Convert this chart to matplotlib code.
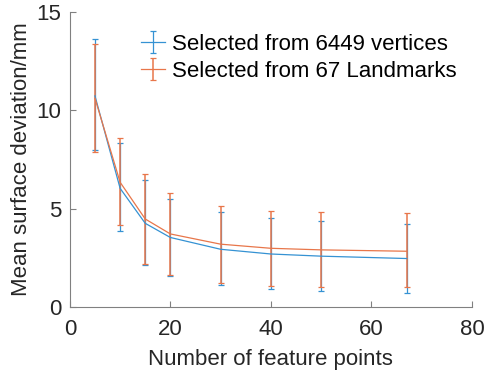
import matplotlib
matplotlib.use("Agg")
import matplotlib.pyplot as plt
import numpy as np

plt.rcParams["font.family"] = ["Liberation Sans", "DejaVu Sans"]

# ── Data ──────────────────────────────────────────────────────────────
n_points = [5, 10, 15, 20, 30, 40, 50, 67]

vert_mean  = [10.73, 6.03, 4.25, 3.53, 2.93, 2.69, 2.58, 2.46]
vert_upper = [13.61, 8.32, 6.44, 5.47, 4.81, 4.53, 4.36, 4.19]
vert_lower = [7.98, 3.86, 2.14, 1.58, 1.10, 0.90, 0.81, 0.73]

lmk_mean  = [10.61, 6.34, 4.47, 3.71, 3.19, 2.98, 2.90, 2.83]
lmk_upper = [13.36, 8.58, 6.78, 5.78, 5.15, 4.90, 4.83, 4.75]
lmk_lower = [7.86, 4.14, 2.20, 1.64, 1.24, 1.08, 1.03, 1.00]

x_ticks = [0, 20, 40, 60, 80]
y_ticks = [0, 5, 10, 15]

BLUE   = "#3592d3"
ORANGE = "#e8764a"
AXIS   = "#808080"
TEXT   = "#262626"
FS     = 16


def err(mean, lower, upper):
    m = np.array(mean)
    return [m - np.array(lower), np.array(upper) - m]


fig = plt.figure(figsize=(4.85, 3.72), dpi=100)
ax = fig.add_axes([0.144, 0.175, 0.829, 0.793])

ax.errorbar(n_points, vert_mean, yerr=err(vert_mean, vert_lower, vert_upper),
            color=BLUE, linewidth=0.9, elinewidth=0.9, capsize=2.5, capthick=0.9,
            label="Selected from 6449 vertices")
ax.errorbar(n_points, lmk_mean, yerr=err(lmk_mean, lmk_lower, lmk_upper),
            color=ORANGE, linewidth=0.9, elinewidth=1.1, capsize=2.5, capthick=0.9,
            label="Selected from 67 Landmarks")

ax.set_xlim(0, 80)
ax.set_ylim(0, 15)
ax.set_xticks(x_ticks)
ax.set_yticks(y_ticks)

for side in ["top", "right"]:
    ax.spines[side].set_visible(False)
for side in ["left", "bottom"]:
    ax.spines[side].set_color(AXIS)
    ax.spines[side].set_linewidth(0.8)

ax.tick_params(direction="in", length=4, width=0.8, color=AXIS,
               labelcolor=TEXT, labelsize=FS)
ax.tick_params(axis="x", pad=9)
ax.tick_params(axis="y", pad=6)
ax.set_xlabel("Number of feature points", fontsize=FS, color=TEXT, labelpad=6)
ax.set_ylabel("Mean surface deviation/mm", fontsize=FS, color=TEXT, labelpad=3)

# legend sits inside the axes, no frame, like the MATLAB original
ax.legend(loc="upper left", bbox_to_anchor=(0.177, 0.925), frameon=False,
          fontsize=FS, handlelength=1.08, handletextpad=0.32, labelspacing=0.27,
          borderaxespad=0, borderpad=0, labelcolor="black")

plt.savefig("out.png", dpi=100)
plt.close()
